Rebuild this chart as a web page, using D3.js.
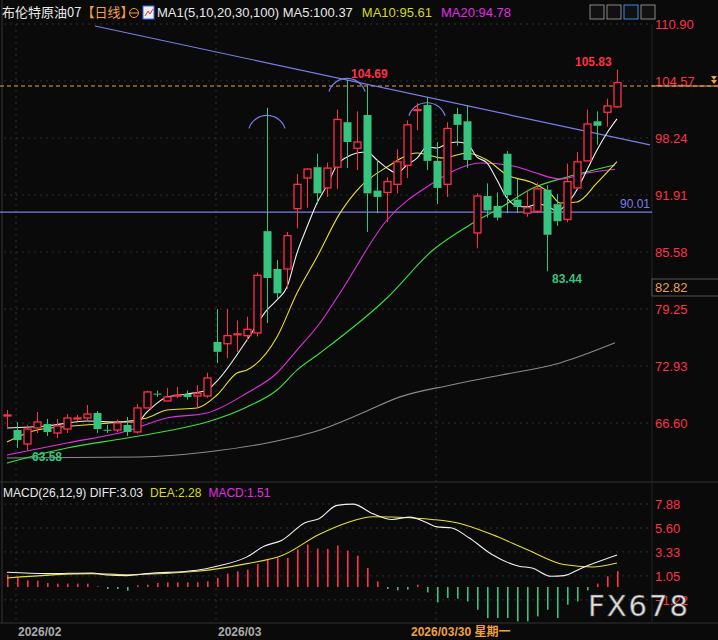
<!DOCTYPE html>
<html><head><meta charset="utf-8">
<script src="https://cdn.jsdelivr.net/npm/d3@7/dist/d3.min.js"></script>
<style>body{margin:0;background:#0a0a0a;}svg{display:block;font-family:"Liberation Sans",Arial,sans-serif;}</style>
</head><body><svg id="c" width="718" height="640"></svg>
<script>
// [open, high, low, close]
const candles = [
[67.40,68.04,66.05,67.49],[65.82,66.71,63.83,64.71],[64.27,66.40,63.58,65.93],[66.05,67.82,65.49,66.71],
[66.49,67.05,65.16,65.60],[65.49,67.05,64.93,66.27],[65.93,67.60,65.49,67.16],[67.10,67.50,66.80,67.16],
[67.16,68.60,66.93,67.60],[67.71,67.93,65.49,65.93],[65.85,66.40,65.49,65.82],[65.82,67.00,65.60,66.60],
[66.38,67.27,65.16,65.60],[65.60,68.70,65.40,68.27],[68.27,70.20,68.27,70.05],[69.86,70.20,69.50,69.83],
[69.05,70.50,69.05,69.49],[69.65,70.60,69.40,69.70],[69.83,70.20,69.20,69.49],[69.60,70.80,68.30,69.90],
[69.60,72.20,69.40,71.60],[75.60,79.25,73.27,74.50],[75.40,79.25,73.80,76.30],[76.45,78.00,74.50,76.50],
[76.30,78.40,75.80,77.00],[76.60,83.30,76.20,83.00],[87.90,101.60,77.70,82.70],[83.70,84.70,80.40,81.00],
[83.70,87.80,81.50,87.40],[90.40,94.25,88.20,93.10],[93.80,94.90,90.50,94.80],[95.00,96.50,90.90,92.10],
[92.70,95.50,91.70,94.90],[95.00,101.40,92.60,100.30],[100.00,104.69,94.90,97.80],[97.10,101.20,94.70,97.80],
[100.80,104.10,87.80,92.10],[92.40,95.80,89.90,91.70],[92.20,93.90,88.90,93.40],[93.10,97.00,92.10,95.60],
[95.20,100.20,93.80,99.70],[101.35,102.10,99.10,101.40],[101.90,102.70,94.70,95.70],[95.70,97.80,90.90,92.70],
[93.10,100.00,91.70,99.30],[100.90,101.60,97.40,99.70],[100.10,101.90,94.90,95.80],[87.70,92.10,86.00,91.80],
[91.80,93.20,89.40,90.20],[90.70,92.20,89.10,89.40],[96.50,96.80,89.90,91.90],[91.40,93.70,89.90,90.60],
[89.90,92.50,89.50,90.50],[90.10,93.30,89.90,92.60],[92.50,93.00,83.44,87.50],[90.90,92.00,88.50,89.00],
[89.20,95.40,88.90,93.40],[92.70,96.70,92.60,95.60],[95.70,101.40,95.70,99.80],[100.10,101.20,97.50,99.60],
[101.10,102.60,99.50,101.80],[101.70,105.83,101.60,104.40]
];
// moving averages: [candle index, value]
const ma5 = [[0,66.05],[4,66.27],[8,66.82],[11,66.71],[13,66.71],[14,67.82],[16,69.49],[18,69.82],[20,70.26],[21,71.26],[24,75.82],[26,79.15],[27,80.26],[28,81.70],[29,85.48],[30,88.36],[31,91.03],[32,93.0],[33,95.25],[34,96.13],[35,96.58],[36,96.69],[37,95.8],[38,94.9],[39,94.36],[40,95.25],[41,96.0],[42,97.24],[43,97.13],[44,97.6],[45,97.8],[46,97.6],[47,96.13],[48,95.47],[49,93.58],[50,91.58],[51,90.7],[52,90.6],[53,90.92],[54,90.7],[55,90.14],[56,90.92],[57,92.5],[58,94.7],[59,96.9],[60,98.8],[61,100.37]];
const ma10 = [[0,64.49],[3,65.82],[9,66.49],[14,67.16],[16,68.05],[19,68.27],[21,69.71],[23,72.15],[24,72.48],[27,76.15],[29,81.03],[31,85.03],[33.3,89.9],[35.3,92.8],[38,95.02],[41,96.58],[43.6,96.02],[46,96.58],[48,95.8],[50,94.14],[52.6,93.25],[54.3,92.14],[55.3,91.03],[57,91.14],[59,93.25],[61,95.61]];
const ma20 = [[0,63.05],[6,64.38],[12,65.71],[16,67.16],[20,67.71],[24,69.93],[27,72.15],[29,74.7],[31.3,77.7],[33.3,81.03],[38,89.14],[42.6,93.25],[45.3,94.91],[47.3,95.47],[50.6,95.14],[52.6,94.47],[55.3,93.69],[58,94.36],[60.8,94.78]];
const ma30 = [[0,62.16],[6,63.83],[12,64.93],[16,65.71],[20,66.71],[24,68.38],[27,70.26],[29,72.48],[31.3,74.37],[38,80.48],[42.6,85.81],[46.6,88.8],[49.3,90.47],[52.6,92.69],[56,93.91],[60.8,95.25]];
const ma100 = [[0,62.72],[13.3,62.83],[20,63.38],[26,64.38],[31.3,65.82],[35.3,67.6],[39.3,69.5],[44.3,70.8],[49.3,71.9],[55.3,73.27],[60.8,75.5]];
const macdHist = [1.17,0.86,0.63,0.60,0.38,0.32,0.32,0.32,0.32,0.06,-0.19,-0.19,-0.35,0.16,0.22,0.38,0.44,0.44,0.44,0.44,0.54,0.86,1.27,1.49,1.65,2.19,2.60,2.76,2.76,3.56,4.03,3.65,3.62,3.94,3.46,2.98,1.81,0.54,-0.19,-0.32,-0.25,0.22,-0.51,-1.46,-1.05,-1.11,-1.37,-2.16,-2.95,-2.95,-2.95,-3.27,-3.27,-2.79,-2.16,-2.95,-1.68,-1.37,-0.32,0.32,1.02,1.51];
const diff = [[0,1.40],[4,1.27],[8.5,1.33],[10,1.14],[12,1.08],[14,1.27],[19,1.59],[21,1.97],[24,2.86],[25.7,3.87],[27.5,4.44],[29.8,6.10],[31.2,6.48],[33,7.75],[34.6,7.87],[36.6,6.95],[38.5,6.41],[40.3,6.63],[42,6.10],[43,5.71],[44.4,5.62],[46.2,4.67],[48.5,3.08],[51.2,1.97],[52.5,1.81],[54.4,1.02],[55.7,1.08],[57.5,1.81],[61,3.03]];
const dea = [[0,0.86],[8.5,1.27],[12,1.17],[19,1.49],[24,2.22],[27.5,2.98],[31.2,4.98],[34,6.10],[36.6,6.67],[40.3,6.57],[42.5,6.41],[45.3,6.03],[48.5,4.98],[52,3.56],[55.7,2.13],[58.5,1.90],[61,2.28]];
const priceTicks = [110.90,104.57,98.24,91.91,85.58,79.25,72.93,66.60];
const macdTicks = [7.88,5.60,3.33,1.05,-1.22];
const trend = [[8.8,110.68],[64.3,97.47]];
const arcs = [[26,100.2],[34,104.3],[42,101.6]];
const dates = [[1,"2026/02"],[21,"2026/03"],[43,"2026/03/30 星期一"]];

const svg = d3.select("#c");
const RED="#ff3048", GREEN="#36c47e";
const x = d3.scaleLinear().domain([0,61]).range([7,617]);
const y = d3.scaleLinear().domain([66.60,110.90]).range([423,24]);
const ym = d3.scaleLinear().domain([0,7.88]).range([587,504]);
svg.append("rect").attr("width",718).attr("height",640).attr("fill","#0a0a0a");
// grid
const g = svg.append("g").attr("stroke","#2e2e2e").attr("stroke-dasharray","2,4");
priceTicks.forEach(t=>g.append("line").attr("x1",4).attr("x2",652).attr("y1",y(t)).attr("y2",y(t)));
macdTicks.forEach(t=>g.append("line").attr("x1",4).attr("x2",652).attr("y1",ym(t)).attr("y2",ym(t)));
[16,216,436].forEach(v=>g.append("line").attr("x1",v).attr("x2",v).attr("y1",24).attr("y2",623));
svg.append("line").attr("x1",0).attr("x2",718).attr("y1",482).attr("y2",482).attr("stroke","#333");
svg.append("line").attr("x1",0).attr("x2",718).attr("y1",623).attr("y2",623).attr("stroke","#333");
svg.append("line").attr("x1",652).attr("x2",652).attr("y1",24).attr("y2",623).attr("stroke","#222");
svg.append("line").attr("x1",2).attr("x2",2).attr("y1",0).attr("y2",623).attr("stroke","#333");
// axis labels
const ax = d3.axisRight(y).tickValues(priceTicks).tickFormat(d3.format(".2f")).tickSize(0);
const axg = svg.append("g").attr("transform","translate(652,0)").call(ax);
axg.select(".domain").remove();
axg.selectAll("text").attr("fill","#ff3048").attr("font-size",13).attr("x",3);
const axm = d3.axisRight(ym).tickValues(macdTicks).tickFormat(d3.format(".2f")).tickSize(0);
const amg = svg.append("g").attr("transform","translate(652,0)").call(axm);
amg.select(".domain").remove();
amg.selectAll("text").attr("fill","#ff3048").attr("font-size",13).attr("x",3);
// horizontal lines
svg.append("line").attr("x1",0).attr("x2",652).attr("y1",y(90.01)).attr("y2",y(90.01)).attr("stroke","#7a7ee8").attr("stroke-width",1.2);
svg.append("text").attr("x",650).attr("y",y(90.01)-4).attr("text-anchor","end").attr("fill","#7a7ee8").attr("font-size",12).text("90.01");
svg.append("line").attr("x1",0).attr("x2",718).attr("y1",y(104.57)+5).attr("y2",y(104.57)+5).attr("stroke","#f0a040").attr("stroke-dasharray","4,3");
svg.append("line").attr("x1",652).attr("x2",718).attr("y1",y(104.57)+5).attr("y2",y(104.57)+5).attr("stroke","#f0a040");
svg.append("path").attr("d","M711,76 l6,0 l-3,4 z M711,80 l6,0 l-3,4 z").attr("fill","#f0a040");
svg.append("rect").attr("x",652).attr("y",279).attr("width",70).attr("height",17).attr("fill","#0a0a0a").attr("stroke","#555");
svg.append("text").attr("x",655).attr("y",292).attr("fill","#f0a040").attr("font-size",13).text("82.82");
// trend line
svg.append("line").attr("x1",x(trend[0][0])).attr("y1",y(trend[0][1])).attr("x2",x(trend[1][0])).attr("y2",y(trend[1][1])).attr("stroke","#7a7ee8").attr("stroke-width",1.2);
// arcs
arcs.forEach(([i,v])=>{
  const cx=x(i), cy=y(v)+14, r=19;
  svg.append("path").attr("d",d3.arc()({innerRadius:r,outerRadius:r,startAngle:-1.25,endAngle:1.25})).attr("transform",`translate(${cx},${cy})`).attr("fill","none").attr("stroke","#7a7ee8").attr("stroke-width",1.2);
});
// MAs
const line = d3.line().x(d=>x(d[0])).y(d=>y(d[1])).curve(d3.curveMonotoneX);
[[ma100,"#8a8a8a"],[ma30,"#3ce03c"],[ma20,"#e030e0"],[ma10,"#e8e030"],[ma5,"#f0f0f0"]].forEach(([d,c])=>
  svg.append("path").attr("d",line(d)).attr("fill","none").attr("stroke",c).attr("stroke-width",1.1));
// candles
const bw=7;
candles.forEach((c,i)=>{
  const [o,h,l,cl]=c, up=cl>=o, col=up?RED:GREEN, cx=Math.round(x(i))+0.5;
  const top=y(Math.max(o,cl)), bot=y(Math.min(o,cl));
  svg.append("line").attr("x1",cx).attr("x2",cx).attr("y1",y(h)).attr("y2",top).attr("stroke",col);
  svg.append("line").attr("x1",cx).attr("x2",cx).attr("y1",bot).attr("y2",y(l)).attr("stroke",col);
  const hgt=Math.max(1,bot-top);
  if(up) svg.append("rect").attr("x",cx-bw/2).attr("y",top).attr("width",bw).attr("height",hgt).attr("fill","#0a0a0a").attr("stroke",col).attr("stroke-width",1.3);
  else svg.append("rect").attr("x",cx-bw/2-0.5).attr("y",top).attr("width",bw+1).attr("height",hgt).attr("fill",col);
});
// extreme labels
svg.append("text").attr("x",x(34)+4).attr("y",y(104.69)-2).attr("fill","#ff3048").attr("font-size",12).attr("font-weight","bold").text("104.69");
svg.append("text").attr("x",x(61)-42).attr("y",y(105.83)-4).attr("fill","#ff3048").attr("font-size",12).attr("font-weight","bold").text("105.83");
svg.append("text").attr("x",x(54)+5).attr("y",y(83.44)+12).attr("fill","#36c47e").attr("font-size",12).attr("font-weight","bold").text("83.44");
svg.append("text").attr("x",x(2)+5).attr("y",y(63.58)+11).attr("fill","#36c47e").attr("font-size",12).attr("font-weight","bold").text("63.58");
// MACD histogram
macdHist.forEach((v,i)=>{
  const cx=Math.round(x(i));
  svg.append("rect").attr("x",cx).attr("width",1.6).attr("y",Math.min(ym(0),ym(v))).attr("height",Math.abs(ym(v)-ym(0))).attr("fill",v>=0?RED:GREEN);
});
const mline = d3.line().x(d=>x(d[0])).y(d=>ym(d[1])).curve(d3.curveMonotoneX);
svg.append("path").attr("d",mline(dea)).attr("fill","none").attr("stroke","#e8e030").attr("stroke-width",1.1);
svg.append("path").attr("d",mline(diff)).attr("fill","none").attr("stroke","#f0f0f0").attr("stroke-width",1.1);
// headers
const t1 = svg.append("text").attr("x",2).attr("y",17).attr("font-size",13).attr("font-family","Noto Sans CJK SC");
t1.append("tspan").attr("fill","#e8e8e8").text("布伦特原油07");
t1.append("tspan").attr("fill","#f0a040").text("【日线】");
svg.append("circle").attr("cx",134).attr("cy",13).attr("r",4.5).attr("fill","none").attr("stroke","#f0a040");
svg.append("line").attr("x1",129.5).attr("x2",138.5).attr("y1",13).attr("y2",13).attr("stroke","#f0a040");
svg.append("rect").attr("x",143).attr("y",6).attr("width",11).attr("height",13).attr("fill","#eee").attr("stroke","#36f");
svg.append("path").attr("d","M145,16 L148,11 L150,14 L153,9").attr("stroke","#e33").attr("fill","none");
const t2 = svg.append("text").attr("x",157).attr("y",17).attr("font-size",13);
t2.append("tspan").attr("fill","#e8e8e8").text("MA1(5,10,20,30,100) MA5:100.37");
t2.append("tspan").attr("fill","#d8d820").attr("dx",9).text("MA10:95.61");
t2.append("tspan").attr("fill","#e030e0").attr("dx",9).text("MA20:94.78");
[590,607,624,641].forEach((bx,k)=>svg.append("rect").attr("x",bx).attr("y",5).attr("width",14).attr("height",14).attr("fill","#111").attr("stroke",k==2?"#3a8ee6":"#888"));
const t3 = svg.append("text").attr("x",3).attr("y",497).attr("font-size",12);
t3.append("tspan").attr("fill","#e8e8e8").text("MACD(26,12,9) DIFF:3.03");
t3.append("tspan").attr("fill","#d8d820").attr("dx",7).text("DEA:2.28");
t3.append("tspan").attr("fill","#e030e0").attr("dx",7).text("MACD:1.51");
// dates
dates.forEach(([i,s],k)=>svg.append("text").attr("x",x(i)+ (k==2? -26:1)).attr("y",636).attr("font-size",12).attr("font-weight","bold")
  .attr("font-family","Liberation Sans, Noto Sans CJK SC").attr("fill",k==2?"#f0a040":"#aaa").text(s));
svg.append("text").attr("x",588).attr("y",616).attr("font-size",29).attr("fill","#e0e0e0").attr("stroke","#555").attr("stroke-width",0.6).attr("letter-spacing",2).attr("font-family","DejaVu Sans").text("FX678");
</script></body></html>
